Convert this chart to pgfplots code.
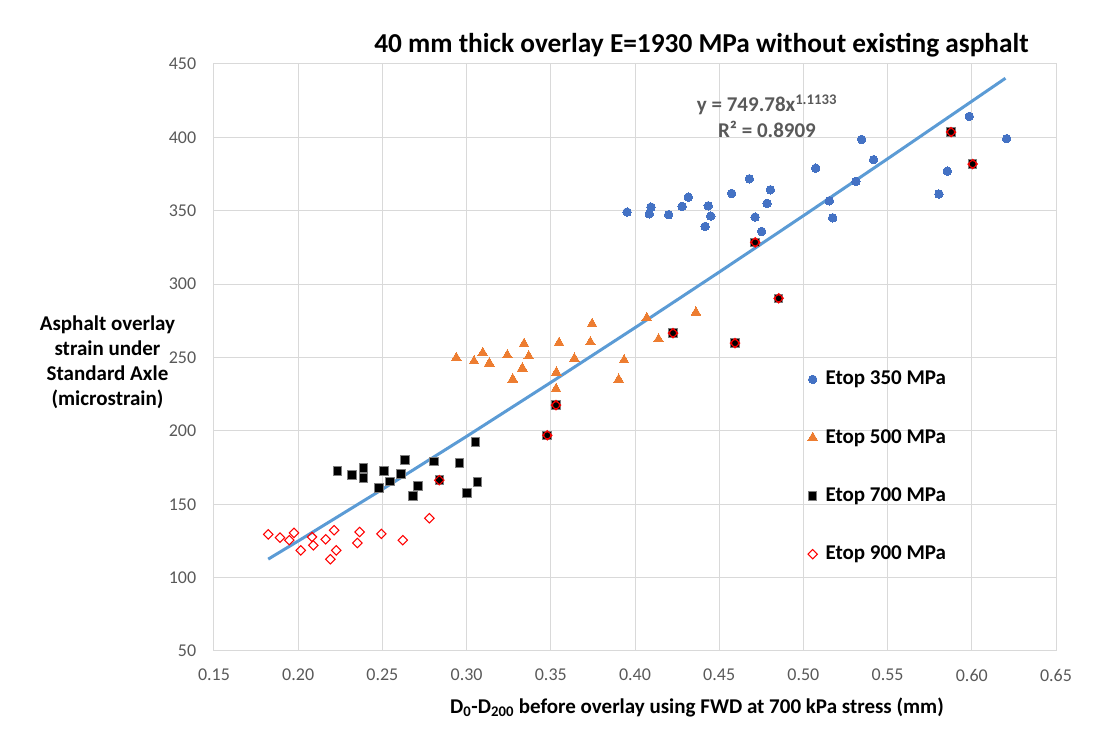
\documentclass[border=0pt]{standalone}
\usepackage{fontspec}
\setmainfont{Carlito}
\usepackage{pgfplots}
\pgfplotsset{compat=1.18}
\definecolor{sblue}{HTML}{4472C4}
\definecolor{sorange}{HTML}{ED7D31}
\definecolor{sred}{HTML}{FF0000}
\definecolor{trend}{HTML}{5B9BD5}
\definecolor{tickgray}{HTML}{595959}
\definecolor{gridgray}{HTML}{D9D9D9}
\definecolor{sqborder}{HTML}{7F7F7F}
\newcommand{\tickfont}{\fontsize{13.5}{16}\selectfont}
\begin{document}
\begin{tikzpicture}
\useasboundingbox (-160.5pt,-60pt) rectangle (671.25pt,488.25pt);
\begin{axis}[
  at={(0pt,0pt)}, anchor=south west,
  scale only axis, width=631.5pt, height=440.25pt,
  xmin=0.15, xmax=0.65, ymin=50, ymax=450,
  xtick={0.15,0.20,0.25,0.30,0.35,0.40,0.45,0.50,0.55,0.60,0.65},
  ytick={50,100,150,200,250,300,350,400,450},
  /pgf/number format/assume math mode=true,
  xticklabel={\tickfont\pgfmathprintnumber[fixed, fixed zerofill, precision=2]{\tick}},
  yticklabel={\tickfont\pgfmathprintnumber{\tick}},
  xticklabel style={inner sep=0pt, yshift=-13.5pt, text=tickgray},
  yticklabel style={inner sep=0pt, xshift=-13.2pt, text=tickgray},
  grid=major, major grid style={draw=gridgray, line width=0.75pt},
  axis line style={draw=gridgray, line width=0.75pt},
  tick style={draw=none},
  clip=false,
  legend style={at={(axis description cs:0.705,0.479)}, anchor=north west, draw=none, fill=none,
    font=\bfseries\fontsize{15.75}{18}\selectfont, row sep=29.7pt, column sep=6pt, inner sep=0pt,
    nodes={inner sep=0pt, text height=11pt, text depth=3pt}},
  legend cell align=left,
  legend image code/.code={\draw[#1, only marks] plot coordinates {(0pt,0pt)};},
]
% trend line y = 749.78 x^1.1133 (values tabulated)
\addplot[no marks, color=trend, line width=2.25pt, forget plot] coordinates {
(0.1822,112.6) (0.20,124.95) (0.25,160.2) (0.30,196.25) (0.35,233.0) (0.40,270.3)
(0.45,308.2) (0.50,346.6) (0.55,385.4) (0.60,424.6) (0.62,440.3)};
% Etop 350
\addplot[only marks, mark=*, mark size=3.2pt, mark options={fill=sblue, draw=sblue, line width=0pt}] table {
x y
0.3953 349.1
0.4085 347.9
0.4095 352.5
0.4200 347.3
0.4280 353.0
0.4317 359.3
0.4416 339.3
0.4435 353.4
0.4450 346.4
0.4574 361.8
0.4679 371.8
0.4713 345.7
0.4752 335.9
0.4784 355.0
0.4804 364.3
0.5073 379.0
0.5154 356.8
0.5174 345.2
0.5312 370.0
0.5346 398.6
0.5417 384.8
0.5805 361.4
0.5855 377.0
0.5985 414.3
0.6207 399.1
};
\addlegendentry{Etop 350 MPa}
% Etop 500
\addplot[only marks, mark=triangle*, mark size=4.2pt, mark options={fill=sorange, draw=sorange, line width=0pt}] table {
x y
0.2939 249.8
0.3044 247.5
0.3096 253.2
0.3135 246.1
0.3242 251.6
0.3274 235.2
0.3331 242.7
0.3341 259.3
0.3369 250.9
0.3531 228.6
0.3533 239.8
0.3549 260.0
0.3640 249.3
0.3735 260.5
0.3745 272.9
0.3903 235.0
0.3935 248.2
0.4070 277.0
0.4140 262.5
0.4362 280.7
};
\addlegendentry{Etop 500 MPa}
% Etop 700
\addplot[only marks, mark=square*, mark size=3.2pt, mark options={fill=black, draw=sqborder, line width=0.75pt}] table {
x y
0.2232 172.5
0.2318 169.8
0.2389 174.8
0.2389 167.9
0.2480 161.1
0.2510 172.5
0.2545 165.5
0.2609 170.7
0.2634 180.0
0.2682 155.7
0.2711 162.3
0.2806 179.1
0.2838 166.4
0.2959 178.2
0.3001 157.7
0.3054 192.5
0.3064 165.2
0.3479 197.0
0.3531 217.5
0.4226 266.6
0.4594 259.8
0.4714 328.4
0.4853 290.3
0.5877 403.6
0.6005 381.8
};
\addlegendentry{Etop 700 MPa}
% Etop 900
\addplot[only marks, mark=square, mark size=2.5pt, mark options={draw=sred, rotate=45, line width=0.8pt}] table {
x y
0.1822 129.5
0.1892 127.3
0.1947 125.5
0.1975 130.5
0.2015 118.6
0.2082 127.7
0.2090 122.0
0.2163 126.1
0.2191 112.5
0.2213 132.3
0.2226 118.6
0.2351 123.6
0.2365 131.1
0.2494 129.8
0.2621 125.5
0.2779 140.5
0.2838 166.4
0.3479 197.0
0.3531 217.5
0.4226 266.6
0.4594 259.8
0.4714 328.4
0.4853 290.3
0.5877 403.6
0.6005 381.8
};
\addlegendentry{Etop 900 MPa}
% overlapping points
\addplot[only marks, mark=*, mark size=2.6pt, mark options={fill=black, draw=sred, line width=0.6pt}, forget plot] table {
x y
0.3479 197.0
0.3531 217.5
0.4226 266.6
0.4594 259.8
0.4714 328.4
0.4853 290.3
0.5877 403.6
0.6005 381.8
};
\node[align=center, text=tickgray, font=\bfseries\fontsize{15.75}{19.5}\selectfont] at (axis cs:0.4784,414.5)
  {y = 749.78x\textsuperscript{1.1133}\\R² = 0.8909};
\node[font=\bfseries\fontsize{20.5}{24}\selectfont] at (axis description cs:0.579,1.0324)
  {40 mm thick overlay E=1930 MPa without existing asphalt};
\node[font=\bfseries\fontsize{15.75}{18}\selectfont] at (axis description cs:0.5736,-0.0954)
  {D\textsubscript{0}-D\textsubscript{200} before overlay using FWD at 700 kPa stress (mm)};
\node[align=center, font=\bfseries\fontsize{15.75}{18.75}\selectfont] at (axis description cs:-0.1265,0.4915)
  {Asphalt overlay\\strain under\\Standard Axle\\(microstrain)};
\end{axis}
\end{tikzpicture}
\end{document}
